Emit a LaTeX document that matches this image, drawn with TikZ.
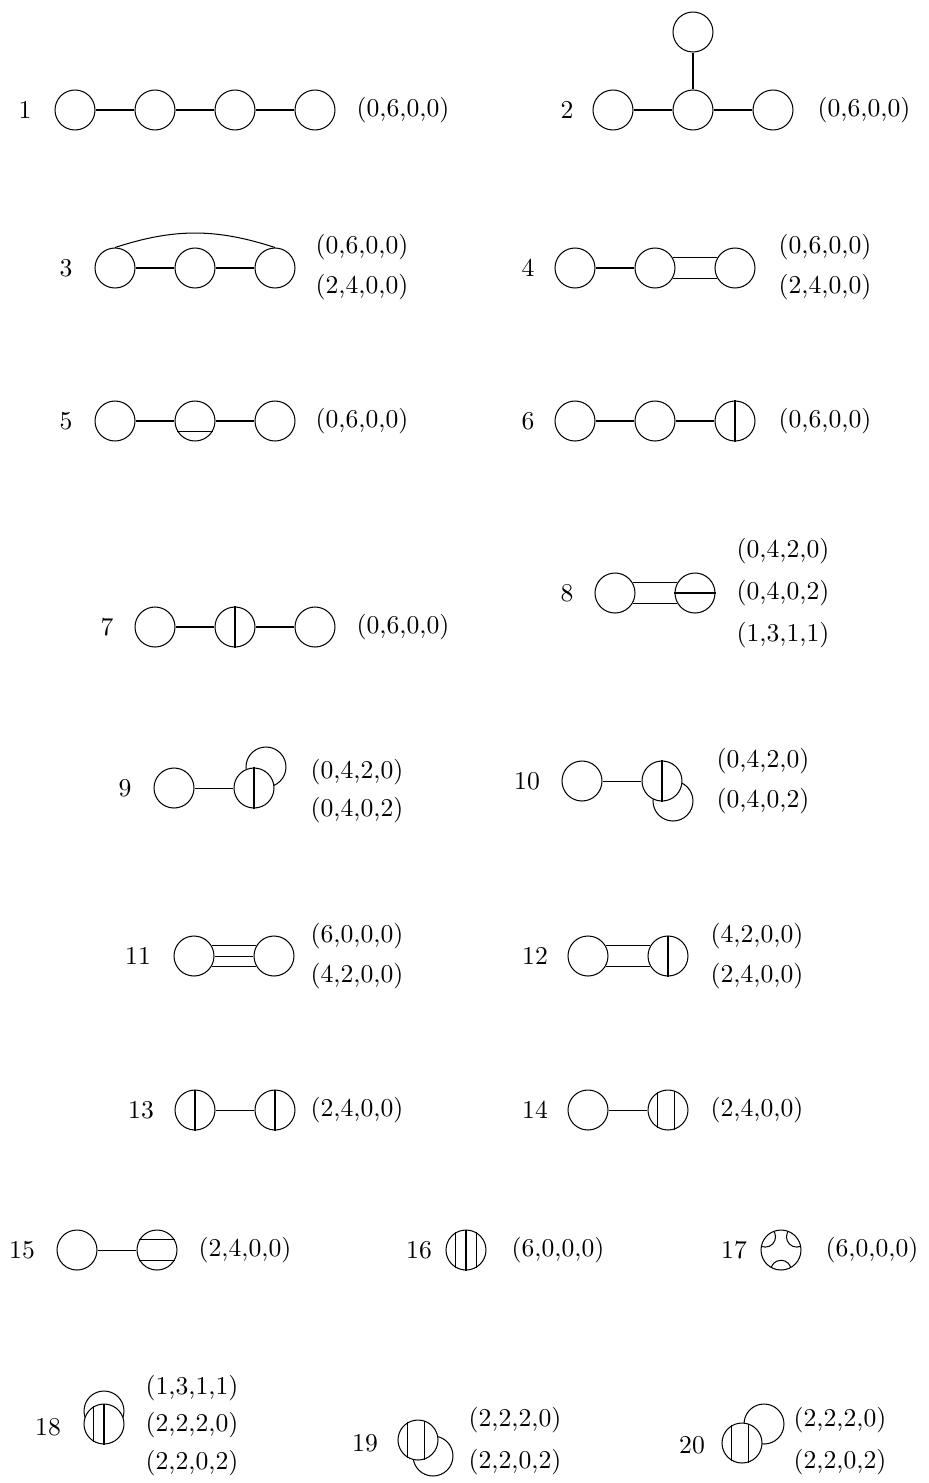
\documentclass[tikz,border=0pt]{standalone}
\usepackage{tikz}
\usepackage{amsmath,amsfonts}
\tikzset{vtx/.style={circle,draw,minimum size=15.6pt,inner sep=0pt},
	fr/.style={vtx,fill=white}}
\newcommand{\vtx}[2]{\node[vtx] (#1) at (#2) {}}
\newcommand{\frt}[2]{\node[fr] (#1) at (#2) {}}
\newcommand{\chord}[3]{\draw (#1.#2) -- (#1.#3)}
\newcommand{\diam}[1]{\draw (#1.north) -- (#1.south)}
\newcommand{\dbl}[2]{\draw (#1.30) -- (#2.150); \draw (#1.-30) -- (#2.-150)}
\newcommand{\lab}[3]{\node (#1) at (#2) {#3}}

\begin{document}
\begin{tikzpicture}[x=0.39pt,y=-0.39pt]
	\useasboundingbox (0,0) rectangle (928,1483);
	% 1
	\lab{n1}{25,110}{1};
	\vtx{v1a}{75,110}; \vtx{v1b}{155,110}; \vtx{v1c}{235,110}; \vtx{v1d}{315,110};
	\draw (v1a) -- (v1b); \draw (v1b) -- (v1c); \draw (v1c) -- (v1d);
	\lab{t1}{403,110}{(0,6,0,0)};
	% 2
	\lab{n2}{567,110}{2};
	\vtx{v2a}{613,110}; \vtx{v2b}{693,110}; \vtx{v2c}{773,110}; \vtx{v2d}{693,32};
	\draw (v2a) -- (v2b); \draw (v2b) -- (v2c); \draw (v2b) -- (v2d);
	\lab{t2}{864,110}{(0,6,0,0)};
	% 3
	\lab{n3}{66,268}{3};
	\vtx{v3a}{115,268}; \vtx{v3b}{195,268}; \vtx{v3c}{275,268};
	\draw (v3a) -- (v3b); \draw (v3b) -- (v3c);
	\draw (v3a.north) to[bend left=18] (v3c.north);
	\lab{t3a}{362,247}{(0,6,0,0)};
	\lab{t3b}{362,287}{(2,4,0,0)};
	% 4
	\lab{n4}{528,268}{4};
	\vtx{v4a}{575,268}; \vtx{v4b}{655,268}; \vtx{v4c}{735,268};
	\draw (v4a) -- (v4b); \dbl{v4b}{v4c};
	\lab{t4a}{825,247}{(0,6,0,0)};
	\lab{t4b}{825,287}{(2,4,0,0)};
	% 5
	\lab{n5}{66,421}{5};
	\vtx{v5a}{115,421}; \vtx{v5b}{195,421}; \vtx{v5c}{275,421};
	\draw (v5a) -- (v5b); \draw (v5b) -- (v5c); \chord{v5b}{-150}{-30};
	\lab{t5}{362,421}{(0,6,0,0)};
	% 6
	\lab{n6}{528,421}{6};
	\vtx{v6a}{575,421}; \vtx{v6b}{655,421}; \vtx{v6c}{735,421};
	\draw (v6a) -- (v6b); \draw (v6b) -- (v6c); \diam{v6c};
	\lab{t6}{825,421}{(0,6,0,0)};
	% 7
	\lab{n7}{107,627}{7};
	\vtx{v7a}{155,627}; \vtx{v7b}{235,627}; \vtx{v7c}{315,627};
	\draw (v7a) -- (v7b); \draw (v7b) -- (v7c); \diam{v7b};
	\lab{t7}{403,627}{(0,6,0,0)};
	% 8
	\lab{n8}{567,593}{8};
	\vtx{v8a}{615,593}; \vtx{v8b}{695,593};
	\dbl{v8a}{v8b}; \chord{v8b}{west}{east};
	\lab{t8a}{783,551}{(0,4,2,0)};
	\lab{t8b}{783,593}{(0,4,0,2)};
	\lab{t8c}{783,635}{(1,3,1,1)};
	% 9
	\lab{n9}{125,788}{9};
	\vtx{v9a}{174,788}; \vtx{v9c}{266,767}; \frt{v9b}{254,788};
	\draw (v9a) -- (v9b); \diam{v9b};
	\lab{t9a}{357,772}{(0,4,2,0)};
	\lab{t9b}{357,810}{(0,4,0,2)};
	% 10
	\lab{n10}{527,781}{10};
	\vtx{v10a}{582,781}; \vtx{v10c}{673,801}; \frt{v10b}{662,781};
	\draw (v10a) -- (v10b); \diam{v10b};
	\lab{t10a}{763,761}{(0,4,2,0)};
	\lab{t10b}{763,801}{(0,4,0,2)};
	% 11
	\lab{n11}{138,956}{11};
	\vtx{v11a}{194,956}; \vtx{v11b}{274,956};
	\dbl{v11a}{v11b}; \draw (v11a) -- (v11b);
	\lab{t11a}{357,936}{(6,0,0,0)};
	\lab{t11b}{357,976}{(4,2,0,0)};
	% 12
	\lab{n12}{535,956}{12};
	\vtx{v12a}{588,956}; \vtx{v12b}{668,956};
	\dbl{v12a}{v12b}; \diam{v12b};
	\lab{t12a}{757,936}{(4,2,0,0)};
	\lab{t12b}{757,976}{(2,4,0,0)};
	% 13
	\lab{n13}{141,1110}{13};
	\vtx{v13a}{195,1110}; \vtx{v13b}{275,1110};
	\draw (v13a) -- (v13b); \diam{v13a}; \diam{v13b};
	\lab{t13}{357,1110}{(2,4,0,0)};
	% 14
	\lab{n14}{535,1110}{14};
	\vtx{v14a}{588,1110}; \vtx{v14b}{668,1110};
	\draw (v14a) -- (v14b); \chord{v14b}{120}{-120}; \chord{v14b}{72}{-72};
	\lab{t14}{757,1110}{(2,4,0,0)};
	% 15
	\lab{n15}{22,1250}{15};
	\vtx{v15a}{77,1250}; \vtx{v15b}{157,1250};
	\draw (v15a) -- (v15b); \chord{v15b}{150}{30}; \chord{v15b}{-150}{-30};
	\lab{t15}{245,1250}{(2,4,0,0)};
	% 16
	\lab{n16}{419,1250}{16};
	\vtx{v16}{466,1250};
	\chord{v16}{120}{-120}; \diam{v16}; \chord{v16}{60}{-60};
	\lab{t16}{558,1250}{(6,0,0,0)};
	% 17
	\lab{n17}{734,1250}{17};
	\vtx{v17}{781,1250};
	\begin{scope}
		\clip (v17) circle (7.8pt);
		\draw (v17.140) circle (4pt);
		\draw (v17.40) circle (4pt);
		\draw (v17.south) circle (4pt);
	\end{scope}
	\lab{t17}{872,1250}{(6,0,0,0)};
	% 18
	\lab{n18}{48,1427}{18};
	\vtx{v18b}{104,1411}; \frt{v18a}{104,1424};
	\chord{v18a}{120}{-120}; \diam{v18a};
	\lab{t18a}{192,1388}{(1,3,1,1)};
	\lab{t18b}{192,1425}{(2,2,2,0)};
	\lab{t18c}{192,1463}{(2,2,0,2)};
	% 19
	\lab{n19}{365,1443}{19};
	\vtx{v19b}{433,1456}; \frt{v19a}{418,1440};
	\chord{v19a}{120}{-120}; \chord{v19a}{72}{-72};
	\lab{t19a}{515,1420}{(2,2,2,0)};
	\lab{t19b}{515,1462}{(2,2,0,2)};
	% 20
	\lab{n20}{692,1445}{20};
	\vtx{v20b}{764,1424}; \frt{v20a}{742,1443};
	\chord{v20a}{120}{-120}; \chord{v20a}{72}{-72};
	\lab{t20a}{840,1420}{(2,2,2,0)};
	\lab{t20b}{840,1462}{(2,2,0,2)};
\end{tikzpicture}
\end{document}
